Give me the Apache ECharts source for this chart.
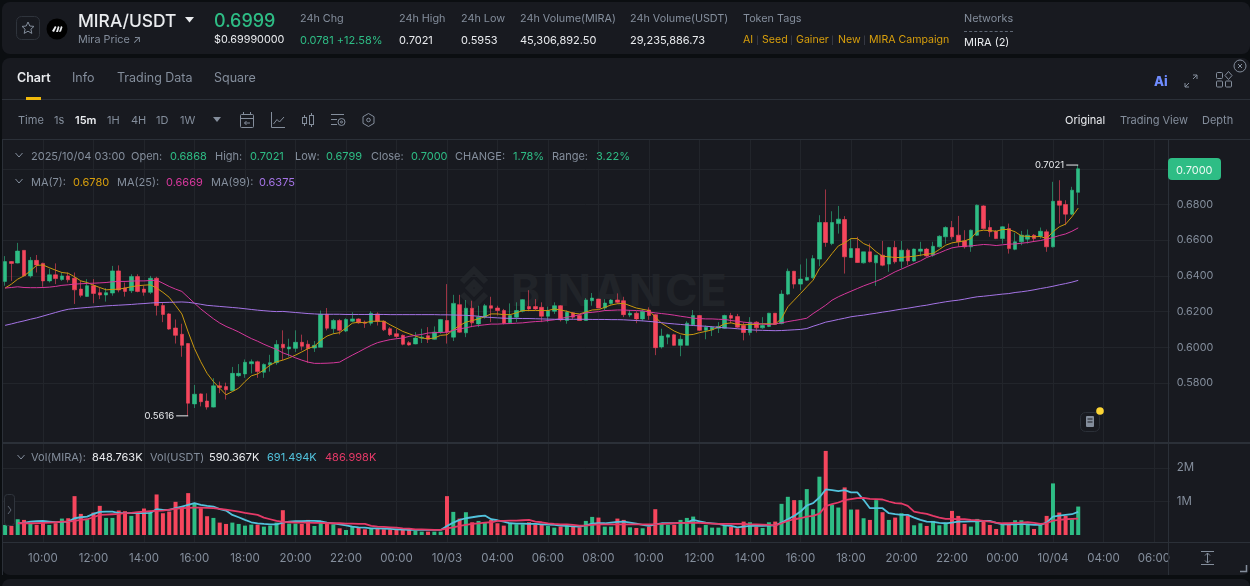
<!DOCTYPE html>
<html lang="en">
<head>
<meta charset="UTF-8">
<title>MIRA/USDT</title>
<script src="https://cdn.jsdelivr.net/npm/echarts/dist/echarts.min.js"></script>
<style>
    html, body { margin: 0; padding: 0; width: 1250px; height: 586px; overflow: hidden; background: #0b0e11; font-family: Inter, "Noto Sans", sans-serif; }
    .panel { position: absolute; background: #181a20; }
    #header { left: 2px; top: 2px; width: 1248px; height: 52px; border-radius: 8px; }
    #board { left: 2px; top: 58px; width: 1248px; height: 517px; border-radius: 8px; }
    #nextPanel { left: 2px; top: 579px; width: 1248px; height: 20px; border-radius: 8px; }
    .t { position: absolute; white-space: nowrap; line-height: 14px; font-size: 11px; color: #848e9c; transform: translateY(-50%); }
    .w { color: #eaecef; }
    .g { color: #2ebd85; }
    .y { color: #d89f0c; }
    .line { position: absolute; background: #2b3038; }
    #main { position: absolute; left: 0; top: 0; width: 1250px; height: 586px; }
    #watermark { position: absolute; left: 511px; top: 264px; font-size: 44px; line-height: 52px; font-weight: 700; letter-spacing: 2.5px; color: #212429; }
    svg { position: absolute; overflow: visible; }
</style>
</head>
<body>
<div id="header" class="panel"></div>
<div id="board" class="panel"></div>
<div id="nextPanel" class="panel"></div>

<div id="watermark">BINANCE</div>
<svg style="left:452px;top:266px" width="44" height="44" viewBox="0 0 44 44" fill="none" stroke="#212429" stroke-width="6">
    <path d="M10 16 L22 4 L34 16"/><path d="M10 28 L22 40 L34 28"/><path d="M17 22 L22 17 L27 22 L22 27 Z"/>
</svg>

<div id="main"></div>

<!-- header and toolbar icons -->
<svg style="left:16px;top:16px" width="25" height="25" fill="none" stroke="#5e6673"><rect x=".5" y=".5" width="23" height="23" rx="5" stroke="#2f343c"/><path d="M12 6 L13.8 10 L18 10.4 L14.9 13.2 L15.8 17.4 L12 15.2 L8.2 17.4 L9.1 13.2 L6 10.4 L10.2 10 Z" stroke="#848e9c"/></svg>
<svg style="left:47px;top:19px" width="20" height="20"><circle cx="10" cy="10" r="10.5" fill="#000"/><path d="M5 12 L8 7 L9.5 8 L7 13 Z M9 13 L11 7 L12.5 8 L11 13 Z M12 13 L14 7 L15.5 8 L14 12.5 Z" fill="#eaecef"/></svg>
<svg style="left:185px;top:16px" width="10" height="8"><path d="M0 1 L9 1 L4.5 6.5 Z" fill="#eaecef"/></svg>
<svg style="left:213px;top:117px" width="9" height="6"><path d="M0 0 L8 0 L4 5 Z" fill="#848e9c"/></svg>
<svg style="left:240px;top:112px" width="14" height="16" fill="none" stroke="#848e9c"><rect x=".5" y="2.5" width="13" height="13" rx="1"/><path d="M0 6.5 H14 M3.5 0 V3 M10.5 0 V3 M10 11 H4.5 M6.5 9 L4.5 11 L6.5 13"/></svg>
<svg style="left:271px;top:112px" width="14" height="16" fill="none" stroke="#848e9c"><path d="M.5 0 V15.5 H14 M2.5 12 L6 7.5 L8.5 10 L13 5"/></svg>
<svg style="left:302px;top:113px" width="13" height="14" fill="none" stroke="#848e9c"><rect x=".5" y="4.5" width="4" height="6"/><rect x="7.5" y="2.5" width="4" height="9"/><path d="M2.5 2 V4.5 M2.5 10.5 V13 M9.5 0 V2.5 M9.5 11.5 V14"/></svg>
<svg style="left:331px;top:113px" width="15" height="14" fill="none" stroke="#848e9c"><path d="M0 1.5 H13 M0 6.5 H6 M0 11.5 H6"/><circle cx="10.5" cy="9" r="3.5"/><circle cx="10.5" cy="9" r="1"/></svg>
<svg style="left:362px;top:113px" width="13" height="15" fill="none" stroke="#848e9c"><path d="M6.5 .5 L12 3.7 V10.3 L6.5 13.5 L1 10.3 V3.7 Z"/><circle cx="6.5" cy="7" r="1.8"/></svg>
<svg style="left:1184px;top:74px" width="14" height="14" fill="none" stroke="#848e9c"><path d="M1 13 L5 9 M9 5 L13 1 M9 1 H13 V5 M1 9 V13 H5" stroke-width="1"/></svg>
<svg style="left:1216px;top:71px" width="16" height="16" fill="none" stroke="#848e9c"><rect x=".5" y="1.5" width="6" height="6" rx="1"/><path d="M12.5 .5 L16 4.5 L12.5 8.5 L9 4.5 Z"/><rect x=".5" y="10" width="6" height="6" rx="1"/><rect x="9.5" y="10" width="6" height="6" rx="1"/></svg>
<svg style="left:1233px;top:59px" width="14" height="14" fill="none" stroke="#848e9c"><circle cx="7" cy="7" r="6"/><path d="M5 5 L9 9 M9 5 L5 9"/></svg>
<svg style="left:15px;top:152px" width="9" height="8" fill="none" stroke="#848e9c"><path d="M.5 1 L4 5 L7.5 1"/></svg>
<svg style="left:15px;top:178px" width="9" height="8" fill="none" stroke="#848e9c"><path d="M.5 1 L4 5 L7.5 1"/></svg>
<svg style="left:17px;top:454px" width="9" height="8" fill="none" stroke="#848e9c"><path d="M.5 1 L4 5 L7.5 1"/></svg>
<svg style="left:4px;top:494px" width="11" height="32" fill="#181a20" stroke="#2f343c"><rect x=".5" y=".5" width="10" height="31" rx="3"/><path d="M4 12 L7 16 L4 20" fill="none" stroke="#5e6673"/></svg>
<svg style="left:1080px;top:406px" width="26" height="28" fill="none"><rect x=".5" y="6.5" width="19" height="19" rx="5" stroke="#2b3038"/><rect x="6" y="10" width="8" height="11" rx="1" fill="#848e9c"/><path d="M7.5 13 H12.5 M7.5 16 H12.5" stroke="#181a20"/><circle cx="20" cy="5" r="3.8" fill="#fcd535"/></svg>
<svg style="left:1201px;top:551px" width="14" height="14" fill="none" stroke="#848e9c"><path d="M0 .5 H13 M0 13.5 H13 M6.5 2 V12 M4 4.5 L6.5 2 L9 4.5 M4 9.5 L6.5 12 L9 9.5"/></svg>
<svg style="left:1240px;top:565px" width="8" height="8" fill="none" stroke="#848e9c" stroke-width="1.5"><path d="M0 6.5 H6.5 V0"/></svg>

<div class="line" style="left:2px;top:99px;width:1248px;height:1px"></div>
<div class="line" style="left:2px;top:139px;width:1248px;height:1px"></div>
<div class="line" style="left:2px;top:442px;width:1248px;height:2px"></div>
<div class="line" style="left:2px;top:542px;width:1248px;height:1px"></div>
<div class="line" style="left:2px;top:139px;width:1px;height:436px"></div>
<div class="line" style="left:1168px;top:139px;width:1px;height:436px"></div>
<div style="position:absolute;left:26px;top:97px;width:15px;height:3px;background:#f0b90b"></div>
<div style="position:absolute;left:964px;top:31px;width:49px;border-top:1px dashed #5e6673"></div>
<div style="position:absolute;left:1168px;top:158px;width:53px;height:22px;border-radius:4px;background:#2ebd85"></div>

<div id="texts"></div>

<script>
    // Candles, 15 minutes each
    var opens = [
        .6369,.648,.6472,.6543,.640,.6487,.647,.6372,.6406,.638,
        .640,.6387,.6326,.6285,.6345,.6306,.6293,.6304,.6428,.6332,
        .6317,.6396,.6326,.6308,.6387,.6234,.6187,.6108,.6073,.6021,
        .5683,.5739,.5699,.5665,.5784,.578,.5758,.5841,.5851,.5908,
        .5919,.586,.5902,.5914,.6017,.5991,.5994,.6028,.6017,.5996,
        .600,.6185,.6104,.615,.6091,.6146,.6159,.6141,.6135,.6187,
        .6146,.6104,.6076,.6067,.6026,.6019,.6052,.6065,.6045,.6085,
        .615,.6057,.6239,.6081,.6219,.6131,.6169,.6233,.622,.6206,
        .6137,.6169,.6202,.6228,.6228,.6224,.6174,.6202,.6233,.615,
        .6193,.6178,.615,.6261,.627,.622,.6246,.6265,.6261,.6181,
        .6191,.6159,.6209,.6183,.6002,.6057,.607,.6011,.6011,.6126,
        .6178,.6095,.6098,.6107,.6107,.6178,.6172,.6122,.6083,.6141,
        .6109,.6117,.6191,.6133,.6298,.6426,.6354,.6376,.6389,.6494,
        .6699,.6581,.6693,.6716,.6503,.6553,.6473,.6535,.6473,.6516,
        .6466,.6559,.6482,.6544,.6484,.6538,.655,.6516,.6563,.6619,
        .6671,.6628,.6596,.6563,.6628,.6792,.6671,.665,.6609,.6665,
        .6549,.6591,.6606,.6628,.6622,.6647,.6563,.682,.68,.6746,
        .6868
    ];
    var closes = [
        .648,.647,.6539,.640,.6487,.6461,.6372,.6406,.6385,.640,
        .6378,.6322,.6291,.6345,.6302,.6293,.6306,.6428,.6321,.6313,
        .6396,.6313,.6308,.6387,.6234,.6184,.6102,.6067,.6011,.5687,
        .5737,.5695,.5665,.5784,.5775,.5762,.5854,.5854,.5916,.5919,
        .5864,.5904,.5914,.6016,.5997,.6002,.6028,.6006,.5993,.6011,
        .6185,.6107,.615,.6095,.6156,.6159,.6137,.6135,.6191,.6146,
        .6098,.6071,.6061,.6017,.6013,.6052,.6057,.6045,.6085,.6156,
        .6085,.6246,.6085,.6219,.6137,.6169,.6233,.6219,.6206,.6135,
        .6178,.6206,.6267,.6215,.6215,.6174,.6206,.6233,.6154,.6196,
        .6169,.615,.6265,.6276,.622,.6248,.6265,.6252,.6183,.6191,
        .6159,.6202,.6178,.5998,.6063,.607,.6011,.6045,.6135,.6178,
        .6095,.6113,.6113,.6117,.6178,.6163,.6113,.6083,.6141,.6109,
        .6122,.6191,.6128,.6298,.6426,.6354,.6382,.6391,.6497,.6699,
        .6587,.6699,.6718,.6507,.6553,.6475,.6535,.6479,.6516,.646,
        .6559,.6479,.6544,.6484,.655,.655,.6512,.6566,.6622,.6671,
        .6619,.6591,.6563,.6656,.6796,.6665,.6647,.6609,.6675,.6553,
        .6591,.6628,.6628,.6609,.665,.6563,.6818,.6796,.6746,.688,
        .7000
    ];
    var lows = [
        .6345,.6372,.647,.640,.639,.6419,.6339,.6363,.6354,.6372,
        .6363,.6243,.628,.6283,.6247,.627,.6256,.6289,.6308,.6284,
        .6304,.6308,.6289,.6298,.6178,.6141,.6098,.6021,.5947,.5616,
        .566,.5669,.5651,.5663,.5743,.5708,.5756,.5834,.5829,.5854,
        .5829,.5829,.5864,.5902,.5928,.5947,.5974,.5983,.5913,.5974,
        .600,.6095,.6076,.6072,.6085,.6141,.6132,.6109,.6122,.6122,
        .6091,.6063,.6048,.6011,.6009,.6017,.6024,.6024,.6043,.6076,
        .6021,.6035,.6081,.6057,.6113,.6113,.6161,.6141,.6178,.6128,
        .6132,.6141,.6196,.6202,.6209,.6141,.6141,.6187,.6145,.6132,
        .6159,.615,.615,.6233,.6219,.6206,.6239,.6243,.6169,.6169,
        .6135,.6146,.6154,.5956,.5993,.6017,.6009,.595,.6011,.6122,
        .6091,.6045,.6063,.608,.6104,.6135,.6109,.6039,.6067,.6083,
        .6104,.6113,.6128,.6129,.6292,.6329,.632,.6372,.6385,.6454,
        .6563,.6572,.6637,.6413,.6501,.6473,.6469,.6475,.6344,.6454,
        .6423,.6469,.6441,.646,.6479,.651,.6507,.6507,.6559,.6581,
        .6604,.6563,.6553,.6535,.6624,.666,.6619,.6606,.6581,.6525,
        .6544,.6572,.6581,.6591,.6609,.6535,.6559,.6693,.6684,.674,
        .6799
    ];
    var highs = [
        .6511,.6483,.6585,.6543,.6506,.6517,.6474,.644,.647,.6419,
        .6419,.6419,.6372,.6382,.6382,.6335,.6332,.6456,.6459,.6363,
        .6409,.6409,.6345,.640,.6395,.6252,.6191,.6156,.6132,.6024,
        .5789,.5742,.5742,.5827,.5808,.5802,.589,.5906,.5932,.5932,
        .5925,.591,.5958,.604,.6095,.6048,.6095,.6071,.6039,.6035,
        .6206,.622,.6159,.6159,.6163,.6196,.6163,.615,.6202,.6196,
        .615,.6113,.6104,.6072,.6035,.6085,.6104,.6113,.6117,.6159,
        .6354,.6294,.6294,.6265,.6261,.6233,.6243,.6283,.6233,.6215,
        .6246,.6252,.627,.632,.627,.6252,.6228,.6252,.6237,.6206,
        .6196,.6187,.6276,.6304,.6272,.627,.627,.6302,.6283,.6209,
        .6202,.6215,.6224,.6187,.6104,.6076,.6076,.6067,.6146,.6209,
        .6181,.6122,.6117,.6141,.6183,.6193,.6187,.6141,.6169,.6146,
        .6169,.6193,.6191,.632,.6441,.6428,.6464,.6497,.6516,.674,
        .6884,.6762,.6792,.6735,.6609,.6619,.6535,.6581,.6516,.6596,
        .6563,.6596,.6596,.6553,.6553,.6591,.6557,.6591,.6628,.6678,
        .6708,.6736,.6656,.666,.68,.6796,.6712,.6656,.6678,.6693,
        .6641,.6652,.666,.6634,.6671,.666,.6927,.6936,.6824,.6899,
        .7021
    ];

    // Moving averages as drawn
    var ma7 = [
        .6332,.6354,.6382,.64,.6428,.6459,.6461,.6446,.6432,.6419,
        .6415,.6395,.6372,.6363,.6348,.6335,.6322,.6324,.6326,.6332,
        .6339,.6345,.6348,.635,.6332,.6308,.628,.6234,.6187,.6086,
        .5993,.5919,.5854,.5808,.5771,.5734,.5752,.5771,.5808,.584,
        .5851,.5873,.5901,.5919,.5928,.5941,.5956,.5974,.5993,.6006,
        .6039,.6063,.6076,.6082,.6108,.6135,.6141,.6137,.6146,.6146,
        .6146,.6126,.6108,.6089,.6076,.6063,.6052,.6048,.6052,.6067,
        .607,.6098,.6122,.6141,.615,.6159,.6172,.6187,.6187,.6183,
        .6183,.6193,.6206,.6206,.6206,.6206,.6206,.6215,.6209,.6202,
        .6191,.6187,.6198,.6209,.6211,.6224,.6237,.6244,.6246,.6233,
        .622,.6213,.6206,.6169,.6135,.6113,.6091,.6076,.6069,.6072,
        .6082,.6089,.6098,.6113,.6132,.6137,.6128,.6126,.6128,.6128,
        .6132,.6132,.6130,.6161,.6227,.6264,.6301,.6339,.6376,.6441,
        .6479,.6525,.6568,.6585,.6609,.6609,.6581,.6566,.6535,.651,
        .6507,.6503,.6503,.6507,.651,.6516,.6522,.6525,.6548,.6572,
        .6585,.6591,.6596,.6609,.665,.6656,.6654,.665,.666,.666,
        .6647,.6624,.6621,.6619,.6621,.6609,.6647,.6675,.669,.6731,
        .678
    ];
    var ma25 = [
        .6332,.6335,.6339,.6335,.6334,.6334,.6335,.6337,.6341,.6347,
        .635,.6354,.6356,.6358,.6359,.6361,.6363,.6367,.6369,.6369,
        .6371,.6372,.6372,.6374,.6376,.6359,.6341,.6326,.6313,.628,
        .6247,.6215,.6187,.616,.6136,.6117,.6102,.6086,.6067,.6049,
        .6034,.6017,.6002,.5988,.5969,.5956,.5941,.5928,.5917,.591,
        .591,.5911,.5913,.5917,.5937,.5956,.5974,.5993,.6011,.6026,
        .6035,.6043,.6048,.6052,.6061,.6067,.6072,.608,.6082,.6083,
        .6085,.6095,.6104,.6109,.6117,.6122,.6126,.613,.613,.6132,
        .6133,.6135,.6137,.6141,.6144,.6146,.615,.6154,.6161,.6169,
        .6174,.6183,.6193,.6196,.62,.6206,.6207,.6209,.6209,.6207,
        .6206,.6204,.6198,.6193,.6189,.6185,.618,.6174,.6169,.6163,
        .6161,.6159,.6159,.6157,.6156,.615,.6146,.6141,.6137,.6133,
        .613,.6128,.6131,.6137,.6144,.615,.6156,.6163,.6189,.6212,
        .6236,.6264,.6283,.6299,.6314,.6329,.6344,.6357,.637,.6385,
        .6404,.6423,.6438,.6454,.6469,.6484,.6503,.6516,.6529,.6544,
        .6557,.6563,.6566,.6568,.6572,.6576,.6574,.657,.6574,.6578,
        .6579,.6583,.6587,.6593,.6598,.6606,.6615,.6626,.6635,.665,
        .6669
    ];
    var ma99 = [
        .6123,.6131,.614,.6148,.6157,.6165,.6175,.6185,.6195,.6205,
        .6213,.6217,.622,.6223,.6226,.6229,.6232,.6234,.6236,.6238,
        .624,.6243,.6245,.6248,.625,.6251,.6252,.6253,.6254,.6252,
        .6247,.6241,.6235,.6232,.6229,.6226,.6223,.622,.6216,.6212,
        .6208,.6205,.6202,.62,.6201,.6198,.6195,.6192,.6189,.6187,
        .6185,.6185,.6185,.6185,.6184,.6184,.6184,.6184,.6184,.6184,
        .6184,.6183,.6183,.6183,.6183,.6183,.6183,.6183,.6183,.6182,
        .6182,.6181,.618,.6179,.6177,.6174,.617,.6167,.6165,.6163,
        .6162,.6162,.6161,.6161,.616,.6159,.6158,.6157,.6156,.6157,
        .6157,.6157,.6157,.6156,.6156,.6156,.6155,.6155,.6154,.6152,
        .615,.6148,.6145,.6142,.6138,.6134,.6131,.6128,.6125,.6122,
        .612,.6118,.6115,.6112,.6109,.6107,.6104,.6101,.6098,.6096,
        .6095,.6094,.6093,.6094,.6096,.6098,.61,.6105,.6118,.6129,
        .6141,.6148,.6156,.6163,.6171,.6176,.618,.6186,.6191,.6197,
        .6202,.6208,.6214,.6219,.6225,.6231,.6236,.6243,.6249,.6255,
        .626,.6264,.627,.6277,.6283,.6286,.629,.6294,.6298,.6301,
        .6307,.6311,.6316,.6322,.6329,.6335,.6342,.635,.6357,.6365,
        .6375
    ];

    // Volume per candle and its two averages, in millions
    var volumes = [
        .30,.27,.47,.45,.33,.30,.35,.30,.35,.49,
        .50,1.16,.63,.47,.67,.87,.51,.51,.73,.71,
        .57,.63,.79,.67,1.21,.65,.70,.99,.85,1.25,
        .93,.80,.56,.51,.37,.33,.37,.33,.28,.31,
        .31,.25,.28,.37,.74,.34,.34,.33,.45,.27,
        .42,.37,.32,.20,.15,.27,.23,.17,.20,.18,
        .17,.17,.17,.15,.15,.13,.10,.10,.10,.10,
        1.16,.69,.49,.68,.38,.42,.37,.45,.35,.28,
        .35,.32,.32,.38,.31,.31,.27,.22,.25,.28,
        .25,.23,.42,.54,.52,.25,.25,.49,.45,.23,
        .21,.20,.25,.77,.35,.30,.30,.45,.51,.55,
        .22,.30,.22,.22,.30,.25,.20,.40,.38,.25,
        .21,.38,.40,.93,1.14,1.04,1.04,1.37,.77,1.74,
        2.51,.90,.82,1.42,.76,.76,.50,.45,1.04,.68,
        .45,.52,.65,.58,.29,.35,.27,.42,.29,.37,
        .72,.57,.33,.25,.48,.40,.30,.18,.30,.30,
        .44,.44,.33,.18,.33,.57,1.54,.67,.57,.47,
        .849
    ];
    var volMaFast = [
        null,null,.35,.36,.40,.41,.42,.40,.38,.39,
        .40,.50,.53,.55,.63,.69,.70,.70,.65,.65,
        .65,.65,.65,.66,.77,.75,.75,.80,.85,.90,
        .95,.90,.87,.85,.77,.73,.60,.53,.45,.38,
        .35,.33,.32,.32,.37,.40,.41,.41,.42,.42,
        .41,.37,.35,.32,.29,.25,.23,.22,.20,.20,
        .19,.18,.17,.16,.15,.15,.15,.15,.15,.15,
        .27,.37,.45,.50,.53,.56,.58,.47,.44,.40,
        .35,.34,.34,.33,.33,.32,.31,.30,.28,.27,
        .26,.25,.29,.34,.35,.35,.37,.39,.40,.37,
        .34,.30,.27,.32,.35,.35,.35,.36,.37,.45,
        .41,.37,.35,.33,.29,.27,.23,.25,.27,.27,
        .27,.28,.29,.37,.47,.57,.70,.88,.95,1.12,
        1.36,1.34,1.31,1.34,1.27,1.27,1.05,.80,.80,.80,
        .65,.62,.60,.60,.52,.45,.40,.39,.36,.35,
        .37,.40,.40,.41,.41,.42,.42,.36,.32,.32,
        .32,.33,.32,.30,.30,.37,.55,.58,.60,.62,
        .691
    ];
    var volMaSlow = [
        null,null,.35,.35,.35,.35,.36,.37,.38,.40,
        .40,.42,.45,.47,.53,.60,.61,.62,.63,.65,
        .66,.68,.70,.71,.72,.73,.76,.78,.80,.81,
        .82,.82,.81,.80,.78,.76,.73,.70,.66,.63,
        .60,.52,.47,.42,.39,.38,.37,.37,.37,.36,
        .36,.35,.35,.35,.34,.34,.33,.33,.27,.25,
        .24,.23,.22,.20,.19,.17,.17,.16,.15,.15,
        .20,.23,.27,.30,.33,.35,.37,.38,.42,.42,
        .43,.43,.44,.45,.40,.38,.35,.33,.32,.32,
        .30,.28,.28,.30,.32,.32,.32,.32,.32,.32,
        .32,.32,.32,.32,.33,.34,.35,.36,.36,.37,
        .36,.35,.34,.33,.33,.33,.33,.33,.32,.32,
        .31,.30,.29,.35,.42,.47,.50,.55,.57,.64,
        .86,.92,.97,1.04,1.07,1.10,1.11,1.08,1.07,1.06,
        1.00,.95,.94,.87,.70,.66,.63,.57,.52,.48,
        .48,.47,.47,.45,.44,.42,.40,.37,.35,.35,
        .36,.37,.38,.36,.33,.35,.43,.45,.47,.48,
        .487
    ];

    var timeLabels = ['10:00','12:00','14:00','16:00','18:00','20:00','22:00','00:00','10/03','04:00','06:00','08:00',
        '10:00','12:00','14:00','16:00','18:00','20:00','22:00','00:00','10/04','04:00','06:00'];
    var priceTicks = [0.58, 0.60, 0.62, 0.64, 0.66, 0.68, 0.70];
    var volumeTicks = [1, 2];

    // One slot per 15 minutes, with room after the last candle; every 8th slot carries a time label
    var categories = [];
    for (var s = 0; s < 185; s++) {
        categories.push(s >= 6 && (s - 6) % 8 === 0 ? timeLabels[(s - 6) / 8] : '');
    }

    var GREEN = '#2ebd85', RED = '#f6465d', GRID = '#22252b', AXIS_TEXT = '#848e9c';

    var candles = opens.map(function (o, i) { return [o, closes[i], lows[i], highs[i]]; });

    var volumeBars = volumes.map(function (v, i) {
        return { value: v, itemStyle: { color: closes[i] >= opens[i] ? GREEN : RED } };
    });

    function hasLabel(index, value) { return value !== ''; }

    function timeAxis(gridIndex, showLabel) {
        return {
            type: 'category', gridIndex: gridIndex, data: categories,
            axisLine: { show: false }, axisTick: { show: false },
            axisPointer: { show: false },
            axisLabel: { show: showLabel, interval: hasLabel, color: AXIS_TEXT, fontSize: 11.5, margin: 11, fontFamily: 'Inter' },
            splitLine: { show: true, interval: hasLabel, alignWithLabel: true, lineStyle: { color: GRID, width: 1 } }
        };
    }

    function maLine(name, data, color, width, axisIndex) {
        return {
            type: 'line', name: name, data: data, xAxisIndex: axisIndex, yAxisIndex: axisIndex,
            showSymbol: false, silent: true, animation: false,
            lineStyle: { color: color, width: width }
        };
    }

    function extremeMark(index, value) {
        return { coord: [index, value], value: value.toFixed(4) };
    }

    var chart = echarts.init(document.getElementById('main'));
    chart.setOption({
        animation: false,
        backgroundColor: 'transparent',
        grid: [
            { left: 1.94, right: 80.25, top: 140, height: 302 },
            { left: 1.94, right: 80.25, top: 443, height: 99 }
        ],
        xAxis: [timeAxis(0, false), timeAxis(1, true)],
        yAxis: [
            {
                type: 'value', gridIndex: 0, position: 'right', min: 0.54695, max: 0.71613,
                axisLine: { show: false },
                axisTick: { show: false, customValues: priceTicks },
                axisLabel: { customValues: priceTicks, color: AXIS_TEXT, fontSize: 10.8, margin: 7, fontFamily: 'Inter',
                    formatter: function (v) { return v.toFixed(4); } },
                splitLine: { show: true, lineStyle: { color: GRID, width: 1 } }
            },
            {
                type: 'value', gridIndex: 1, position: 'right', min: -0.209, max: 2.746,
                axisLine: { show: false },
                axisTick: { show: false, customValues: volumeTicks },
                axisLabel: { customValues: volumeTicks, color: AXIS_TEXT, fontSize: 11.5, margin: 7, fontFamily: 'Inter',
                    formatter: function (v) { return v + 'M'; } },
                splitLine: { show: true, lineStyle: { color: GRID, width: 1 } }
            }
        ],
        series: [
            {
                type: 'candlestick', name: 'MIRA/USDT', data: candles, barWidth: 4,
                itemStyle: { color: GREEN, color0: RED, borderColor: 'rgba(46,189,133,0.6)', borderColor0: 'rgba(246,70,93,0.6)', borderWidth: 1 },
                markPoint: {
                    symbol: 'rect', symbolSize: [12, 1], symbolOffset: [-6, 0], silent: true,
                    itemStyle: { color: '#eaecef' },
                    label: { show: true, position: 'left', distance: 2, formatter: '{c}', color: '#eaecef', fontSize: 9.5, fontFamily: 'Inter' },
                    data: [extremeMark(170, highs[170]), extremeMark(29, lows[29])]
                }
            },
            maLine('MA(7)', ma7, '#c9990f', 1, 0),
            maLine('MA(25)', ma25, '#d6389c', 1, 0),
            maLine('MA(99)', ma99, '#a574e6', 1, 0),
            { type: 'bar', name: 'Vol(MIRA)', data: volumeBars, xAxisIndex: 1, yAxisIndex: 1, barWidth: 4 },
            maLine('Vol MA fast', volMaFast, '#52c3dd', 1.8, 1),
            maLine('Vol MA slow', volMaSlow, '#e53a68', 1.8, 1)
        ]
    });

    // All page text: [text, x, y centre, colour class, size, extra style]
    var pageTexts = [
        ['MIRA/USDT', 78, 21, 'w', 17.4, 'font-weight:500'], ['Mira Price ↗', 78, 40, '', 10.8],
        ['0.6999', 214, 21, 'g', 18, 'font-weight:500'], ['$0.69990000', 214, 40, 'w', 10.8],
        ['24h Chg', 300, 19, '', 10.8], ['0.0781 +12.58%', 300, 40, 'g', 11],
        ['24h High', 399, 19, '', 10.8], ['0.7021', 399, 40, 'w', 11],
        ['24h Low', 461, 19, '', 10.8], ['0.5953', 461, 40, 'w', 11],
        ['24h Volume(MIRA)', 520, 19, '', 10.8], ['45,306,892.50', 520, 40, 'w', 11],
        ['24h Volume(USDT)', 630, 19, '', 10.8], ['29,235,886.73', 630, 40, 'w', 11],
        ['Token Tags', 743, 19, '', 10.8], ['AI', 743, 40, 'y', 10.6], ['|', 756, 40, '', 8, 'color:#474d57'], ['Seed', 762, 40, 'y', 10.6],
        ['|', 790, 40, '', 8, 'color:#474d57'], ['Gainer', 796, 40, 'y', 10.6], ['|', 831, 40, '', 8, 'color:#474d57'],
        ['New', 838, 40, 'y', 10.6], ['|', 863, 40, '', 8, 'color:#474d57'], ['MIRA Campaign', 869, 40, 'y', 10.6],
        ['Networks', 964, 19, '', 10.8], ['MIRA (2)', 964, 42, 'w', 11],
        ['Chart', 17, 78, 'w', 12.5, 'font-weight:600'], ['Info', 72, 78, '', 12.5], ['Trading Data', 117, 78, '', 12.5], ['Square', 214, 78, '', 12.5],
        ['Ai', 1154, 81, '', 13, 'font-weight:800;color:#6f8cff'],
        ['Time', 18, 120, '', 11], ['1s', 54, 120, '', 11], ['15m', 75, 120, 'w', 11, 'font-weight:600'],
        ['1H', 107, 120, '', 11], ['4H', 131, 120, '', 11], ['1D', 156, 120, '', 11], ['1W', 180, 120, '', 11],
        ['Original', 1065, 120, 'w', 11], ['Trading View', 1120, 120, '', 11], ['Depth', 1202, 120, '', 11],
        ['2025/10/04 03:00', 31, 156, '', 11], ['Open:', 131, 156, '', 11], ['0.6868', 170, 156, 'g', 11],
        ['High:', 215, 156, '', 11], ['0.7021', 250, 156, 'g', 11], ['Low:', 295, 156, '', 11], ['0.6799', 326, 156, 'g', 11],
        ['Close:', 371, 156, '', 11], ['0.7000', 411, 156, 'g', 11], ['CHANGE:', 455, 156, '', 11], ['1.78%', 513, 156, 'g', 11],
        ['Range:', 552, 156, '', 11], ['3.22%', 596, 156, 'g', 11],
        ['MA(7):', 31, 182, '', 11], ['0.6780', 73, 182, '', 11, 'color:#d89f0c'], ['MA(25):', 117, 182, '', 11],
        ['0.6669', 166, 182, '', 11, 'color:#d6389c'], ['MA(99):', 211, 182, '', 11], ['0.6375', 259, 182, '', 11, 'color:#a574e6'],
        ['Vol(MIRA):', 31, 457, '', 11], ['848.763K', 92, 457, 'w', 11], ['Vol(USDT)', 150, 457, '', 11],
        ['590.367K', 209, 457, 'w', 11], ['691.494K', 267, 457, '', 11, 'color:#52c3dd'], ['486.998K', 325, 457, '', 11, 'color:#e53a68'],
        ['0.7000', 1176, 170, '', 11, 'color:#eaf8f2']
    ];
    document.getElementById('texts').innerHTML = pageTexts.map(function (t) {
        return '<div class="t ' + t[3] + '" style="left:' + t[1] + 'px;top:' + t[2] + 'px;font-size:' + t[4] + 'px;' + (t[5] || '') + '">' + t[0] + '</div>';
    }).join('');
</script>
</body>
</html>
